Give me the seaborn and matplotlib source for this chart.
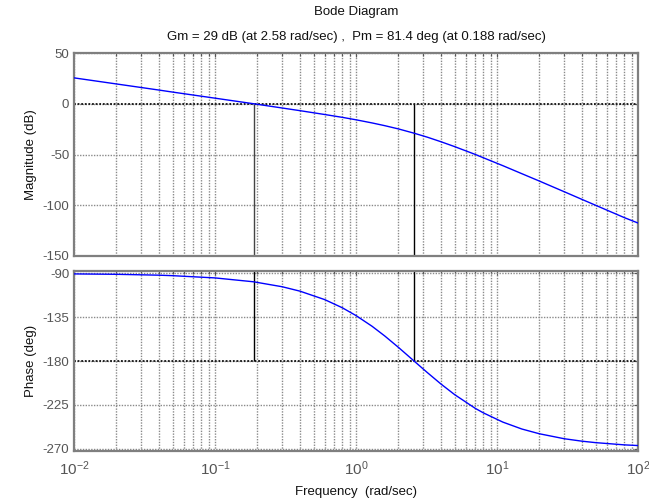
import numpy as np
import pandas as pd
import matplotlib
matplotlib.use("Agg")
import matplotlib.pyplot as plt
import seaborn as sns
from matplotlib.ticker import FixedLocator, NullFormatter, LogLocator

# ---- data ----
freq = [0.01, 0.02, 0.04, 0.05, 0.1, 0.188, 0.3, 0.4, 0.6, 0.8, 1.0, 1.3, 1.6,
        2.0, 2.58, 3.2, 4.0, 5.0, 7.0, 8.0, 11.0, 15.0, 20.0, 30.0, 40.0,
        50.0, 80.0, 100.0]
magnitude_db = [25.5, 19.5, 13.5, 11.5, 5.5, 0.0, -4.2, -6.8, -10.6, -13.4,
                -15.8, -18.9, -21.6, -24.8, -29.0, -32.9, -37.4, -42.2, -49.9,
                -53.2, -61.0, -68.9, -76.2, -86.7, -94.2, -100.0, -112.2,
                -117.5]
phase_deg = [-90.5, -90.9, -91.8, -92.3, -94.6, -98.6, -103.7, -108.2, -116.9,
             -125.3, -133.3, -144.3, -154.3, -166.0, -180.0, -191.8, -203.6,
             -214.5, -228.6, -233.3, -242.8, -249.9, -254.8, -259.9, -262.4,
             -263.9, -266.2, -266.9]
gm_freq = 2.58
pm_freq = 0.188
mag_ticks = [50, 0, -50, -100, -150]
phase_ticks = [-90, -135, -180, -225, -270]
freq_ticks = [0.01, 0.1, 1, 10, 100]
freq_tick_labels = ["$10^{-2}$", "$10^{-1}$", "$10^{0}$", "$10^{1}$", "$10^{2}$"]
title_lines = ["Bode Diagram",
               "Gm = 29 dB (at 2.58 rad/sec) ,  Pm = 81.4 deg (at 0.188 rad/sec)"]

df = pd.DataFrame({"freq": freq, "mag": magnitude_db, "phase": phase_deg})

sns.set_theme(style="white")
plt.rcParams["font.family"] = ["Liberation Sans", "DejaVu Sans"]
plt.rcParams["mathtext.fontset"] = "custom"
plt.rcParams["mathtext.rm"] = "Liberation Sans"
plt.rcParams["mathtext.it"] = "Liberation Sans:italic"
plt.rcParams["axes.unicode_minus"] = False

fig = plt.figure(figsize=(6.49, 5.00), dpi=100)
W, H = 649, 500
def pos(l, t, r, b):
    return [l / W, 1 - b / H, (r - l) / W, (b - t) / H]

ax1 = fig.add_axes(pos(74, 53, 638, 256))
ax2 = fig.add_axes(pos(74, 271, 638, 451))

spine_col = "#7f7f7f"
tick_col = "#555555"
grid_col = "#8a8a8a"

for ax in (ax1, ax2):
    ax.set_xscale("log")
    ax.set_xlim(0.01, 100)
    ax.xaxis.set_major_locator(FixedLocator(freq_ticks))
    ax.xaxis.set_minor_locator(LogLocator(base=10, subs=np.arange(2, 10)))
    ax.xaxis.set_minor_formatter(NullFormatter())
    ax.grid(True, which="major", axis="both", color=grid_col, linestyle=(0, (1, 1)), linewidth=1.0)
    ax.grid(True, which="minor", axis="x", color=grid_col, linestyle=(0, (1, 1)), linewidth=1.0)
    for s in ax.spines.values():
        s.set_color(spine_col)
        s.set_linewidth(1.6)
    ax.tick_params(which="both", direction="in", top=True, right=True,
                   colors=tick_col, labelsize=9.5, length=3, width=0.8)
    ax.tick_params(which="minor", length=2)
    ax.set_axisbelow(True)

# magnitude
ax1.axhline(0, color="#111111", linestyle=(0, (1, 1)), linewidth=1.3, zorder=1)
ax1.vlines([pm_freq], -150, 0, color="#444444", linewidth=1.0, zorder=2)
ax1.vlines([gm_freq], -150, 0, color="#000000", linewidth=1.0, zorder=2)
sns.lineplot(data=df, x="freq", y="mag", ax=ax1, color="#0000ff", linewidth=1.0,
             estimator=None, sort=False, zorder=3)
ax1.set_ylim(-150, 50)
ax1.set_yticks(mag_ticks)
ax1.set_xticklabels([])
ax1.set_xlabel("")
ax1.set_ylabel("Magnitude (dB)", fontsize=9.5, color="#111111")

# phase
ax2.axhline(-180, color="#111111", linestyle=(0, (1, 1)), linewidth=1.3, zorder=1)
ax2.vlines([pm_freq, gm_freq], -180, -87.5, color="#000000", linewidth=1.0, zorder=2)
sns.lineplot(data=df, x="freq", y="phase", ax=ax2, color="#0000ff", linewidth=1.0,
             estimator=None, sort=False, zorder=3)
ax2.set_ylim(-272.5, -87.5)
ax2.set_yticks(phase_ticks)
ax2.set_xticklabels(freq_tick_labels, fontsize=11)
ax2.tick_params(axis="x", pad=6)
ax2.set_ylabel("Phase (deg)", fontsize=9.5, color="#111111")
ax2.set_xlabel("Frequency  (rad/sec)", fontsize=9.5, color="#111111", labelpad=6)

fig.text(356 / W, 1 - 12 / H, title_lines[0], ha="center", va="center", fontsize=9.5, color="#111111")
fig.text(356 / W, 1 - 37 / H, title_lines[1], ha="center", va="center", fontsize=9.5, color="#111111")

fig.align_ylabels([ax1, ax2])

fig.savefig("out.png", dpi=100)
